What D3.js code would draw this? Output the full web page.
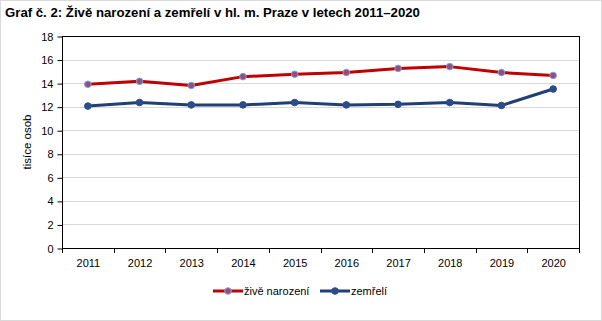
<!DOCTYPE html>
<html><head><meta charset="utf-8">
<script src="https://cdn.jsdelivr.net/npm/d3@7"></script>
<style>body{margin:0;background:#fff}svg{display:block}text{font-family:"Liberation Sans",Arial,sans-serif}</style>
</head><body>
<svg id="c" width="602" height="321"></svg>
<script>
const years = ["2011","2012","2013","2014","2015","2016","2017","2018","2019","2020"];
const narozeni = [13.9,14.15,13.8,14.55,14.75,14.9,15.25,15.4,14.9,14.65];
const zemreli = [12.05,12.35,12.15,12.15,12.35,12.15,12.2,12.35,12.1,13.5];
const yTicks = [0,2,4,6,8,10,12,14,16,18];
const seriesNames = ["živě narození","zemřelí"];

const svg = d3.select("#c");
svg.append("rect").attr("x",0.5).attr("y",0.5).attr("width",601).attr("height",320).attr("fill","#fff").attr("stroke","#d9d9d9");
const L=62,R=579,T=36,B=248;
const x = d3.scaleBand().domain(years).range([L,R]);
const y = d3.scaleLinear().domain([0,18]).range([B,T]);

svg.append("text").attr("x",5).attr("y",17).attr("font-size",13.2).attr("font-weight","bold").attr("fill","#000")
  .text("Graf č. 2: Živě narození a zemřelí v hl. m. Praze v letech 2011–2020");

// grid
svg.append("g").selectAll("line").data(yTicks.filter(d=>d>0&&d<18)).join("line")
  .attr("x1",L).attr("x2",R).attr("y1",d=>Math.round(y(d))+0.5).attr("y2",d=>Math.round(y(d))+0.5)
  .attr("stroke","#d9d9d9").attr("stroke-width",1);
// border
svg.append("rect").attr("x",L+0.5).attr("y",T+0.5).attr("width",R-L).attr("height",B-T).attr("fill","none").attr("stroke","#000");

const ya = svg.append("g").attr("transform",`translate(${L+0.5},0.5)`)
  .call(d3.axisLeft(y).tickValues(yTicks).tickSize(5).tickPadding(4).tickFormat(d3.format("d")));
ya.select(".domain").remove();
ya.selectAll("text").attr("font-size",11).attr("fill","#000").style("font-family","Liberation Sans, Arial");

const xa = svg.append("g").attr("transform",`translate(0.5,${B+0.5})`)
  .call(d3.axisBottom(x).tickSize(0).tickPadding(11));
xa.select(".domain").remove();
xa.selectAll("text").attr("font-size",11).attr("fill","#000");
// category boundary ticks
svg.append("g").selectAll("line").data(d3.range(years.length+1)).join("line")
  .attr("x1",i=>Math.round(L+i*x.step())+0.5).attr("x2",i=>Math.round(L+i*x.step())+0.5)
  .attr("y1",B).attr("y2",B+5).attr("stroke","#000");

svg.append("text").attr("transform",`translate(31,${(T+B)/2}) rotate(-90)`).attr("text-anchor","middle")
  .attr("font-size",11.5).attr("fill","#000").text("tisíce osob");

const line = d3.line().x((d,i)=>x(years[i])+x.bandwidth()/2).y(d=>y(d));
const ser = [
  {v:narozeni,color:"#c00000",mfill:"#9a4b7e",mstroke:"#7aa7d8"},
  {v:zemreli,color:"#203f74",mfill:"#2a4d8a",mstroke:"#2a4d8a"}
];
ser.forEach(s=>{
  svg.append("path").datum(s.v).attr("d",line).attr("fill","none").attr("stroke",s.color).attr("stroke-width",3).attr("stroke-linejoin","round");
  svg.append("g").selectAll("circle").data(s.v).join("circle")
    .attr("cx",(d,i)=>x(years[i])+x.bandwidth()/2).attr("cy",d=>y(d)).attr("r",3.3)
    .attr("fill",s.mfill).attr("stroke",s.mstroke).attr("stroke-width",1);
});

// legend
const lg = [{x:213,s:ser[0],n:seriesNames[0]},{x:320,s:ser[1],n:seriesNames[1]}];
lg.forEach(l=>{
  svg.append("line").attr("x1",l.x).attr("x2",l.x+30).attr("y1",291).attr("y2",291).attr("stroke",l.s.color).attr("stroke-width",3);
  svg.append("circle").attr("cx",l.x+15).attr("cy",291).attr("r",3.3).attr("fill",l.s.mfill).attr("stroke",l.s.mstroke);
  svg.append("text").attr("x",l.x+31).attr("y",295).attr("font-size",11).attr("fill","#000").text(l.n);
});
</script>
</body></html>
